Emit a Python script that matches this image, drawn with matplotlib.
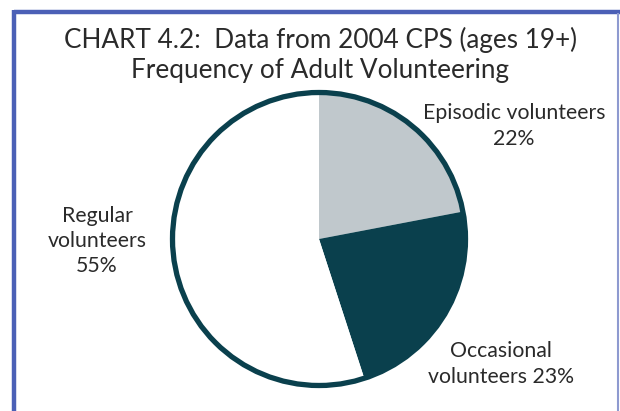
import matplotlib
matplotlib.use("Agg")
import matplotlib.pyplot as plt
from matplotlib.patches import Circle
from matplotlib.lines import Line2D

categories = ["Episodic volunteers", "Occasional volunteers", "Regular volunteers"]
values = [22, 23, 55]
colors = ["#c0c8cc", "#0a404d", "#ffffff"]
title_lines = ["CHART 4.2:  Data from 2004 CPS (ages 19+)", "Frequency of Adult Volunteering"]
label_texts = ["Episodic volunteers\n22%", "Occasional\nvolunteers 23%", "Regular\nvolunteers\n55%"]

W, H = 620, 411
plt.rcParams['font.family'] = ['Lato', 'DejaVu Sans']
fig = plt.figure(figsize=(W / 100, H / 100), dpi=100)
fig.patch.set_facecolor("white")

def fx(px):
    return px / W

def fy(py):
    return 1 - py / H

# frame (top, left, right)
frame_col = "#4b60b6"
fig.add_artist(Line2D([fx(14), fx(620)], [fy(12), fy(12)], color=frame_col, lw=3.2, solid_capstyle="butt"))
fig.add_artist(Line2D([fx(14), fx(14)], [fy(10.5), fy(411)], color=frame_col, lw=3.2, solid_capstyle="butt"))
fig.add_artist(Line2D([fx(617.5), fx(617.5)], [fy(13), fy(411)], color="#8e9ad0", lw=1.5, solid_capstyle="butt"))

# pie
cx, cy, R = 319, 239, 150
ax = fig.add_axes([fx(cx - R), fy(cy + R), 2 * R / W, 2 * R / H])
r_data = 146.5 / R
ax.pie(values, colors=colors, startangle=90, counterclock=False, radius=r_data,
       wedgeprops=dict(linewidth=0))
ax.add_patch(Circle((0, 0), r_data, fill=False, edgecolor="#0a404d", lw=3.8))
ax.set_xlim(-1, 1)
ax.set_ylim(-1, 1)
ax.set_aspect("equal")
ax.axis("off")

txt_col = "#2a2a2a"
fig.text(fx(320), fy(40), title_lines[0], ha="center", va="center", fontsize=18.8, color=txt_col)
fig.text(fx(320), fy(70.5), title_lines[1], ha="center", va="center", fontsize=18.8, color=txt_col)

fig.text(fx(514), fy(126), label_texts[0], ha="center", va="center", fontsize=15.3,
         color=txt_col, linespacing=1.36)
fig.text(fx(501), fy(364), label_texts[1], ha="center", va="center", fontsize=15.3,
         color=txt_col, linespacing=1.32)
fig.text(fx(97), fy(241), label_texts[2], ha="center", va="center", fontsize=15.3,
         color=txt_col, linespacing=1.32)

fig.savefig("out.png", dpi=100, facecolor="white")
